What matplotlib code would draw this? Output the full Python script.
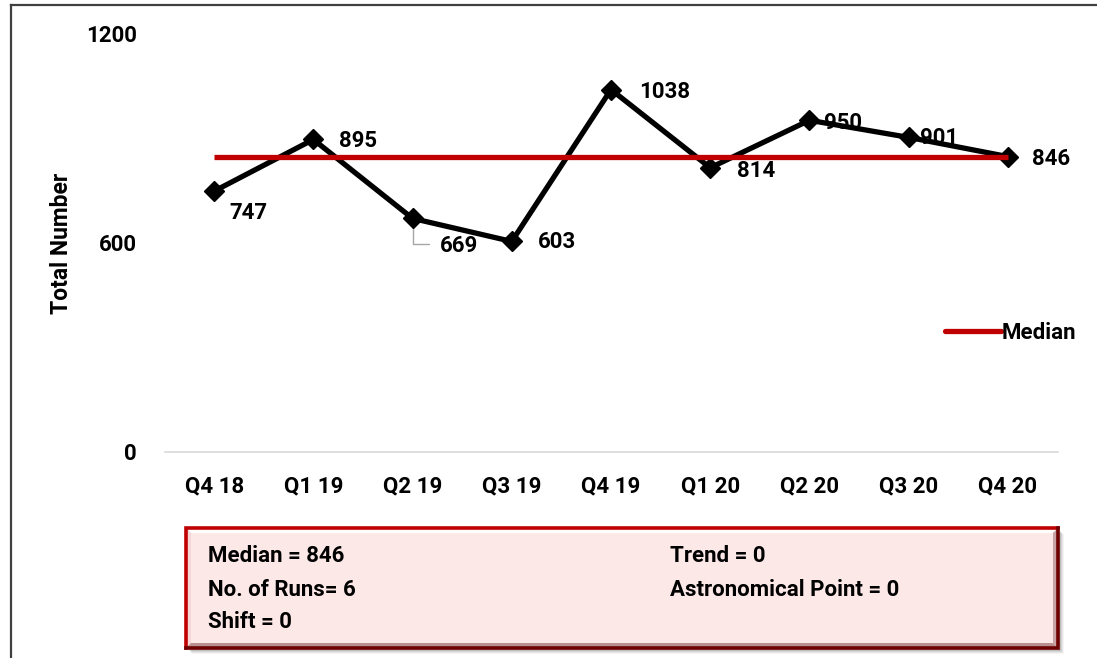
import matplotlib
matplotlib.use("Agg")
import matplotlib.pyplot as plt
from matplotlib.patches import Rectangle, Polygon
from matplotlib.lines import Line2D

plt.rcParams['font.family'] = ['Roboto', 'DejaVu Sans']
plt.rcParams['font.weight'] = 'bold'

# ---- data ----
quarters = ["Q4 18", "Q1 19", "Q2 19", "Q3 19", "Q4 19", "Q1 20", "Q2 20", "Q3 20", "Q4 20"]
totals = [747, 895, 669, 603, 1038, 814, 950, 901, 846]
median_value = 846
y_ticks = [0, 600, 1200]
# label offsets from each point (pixels, right / down)
label_offsets = [(34, 22), (45, 2), (46, 28), (45, 1), (54, 2), (46, 3), (34, 3), (30, 1), (43, 2)]
summary_left = ["Median = 846", "No. of Runs= 6", "Shift = 0"]
summary_right = ["Trend = 0", "Astronomical Point = 0"]

W, H = 1097, 658
DPI = 100
FS = 16
fig = plt.figure(figsize=(W / DPI, H / DPI), dpi=DPI)
fig.patch.set_facecolor("white")


def fx(px):
    return px / W


def fy(py):
    return 1 - py / H


# outer chart frame (top and left edges visible)
fig.add_artist(Line2D([fx(11), fx(11)], [fy(5), fy(H + 5)], color="#404040", lw=1.6,
                      transform=fig.transFigure))
fig.add_artist(Line2D([fx(11), fx(W + 5)], [fy(5), fy(5)], color="#404040", lw=1.6,
                      transform=fig.transFigure))

# plot area
ax_left, ax_right = 164.5, 1057.5
ax_top, ax_bottom = 33, 452
ax = fig.add_axes([fx(ax_left), fy(ax_bottom), fx(ax_right - ax_left), (ax_bottom - ax_top) / H])
ax.set_xlim(-0.5, len(quarters) - 0.5)
ax.set_ylim(0, 1200)
for s in ["top", "right", "left"]:
    ax.spines[s].set_visible(False)
ax.spines["bottom"].set_color("#D9D9D9")
ax.spines["bottom"].set_linewidth(1.2)
ax.tick_params(length=0)
ax.set_xticks(range(len(quarters)))
ax.set_xticklabels(quarters, fontsize=FS, fontweight="bold")
ax.tick_params(axis="x", pad=17)
ax.set_yticks(y_ticks)
ax.set_yticklabels([str(v) for v in y_ticks], fontsize=FS, fontweight="bold")
ax.tick_params(axis="y", pad=20)
ax.set_ylabel("Total Number", fontsize=16.5, fontweight="bold")
ax.yaxis.set_label_coords((73 - ax_left) / (ax_right - ax_left), (ax_bottom - 243) / (ax_bottom - ax_top))
ax.patch.set_alpha(0)

x = list(range(len(quarters)))
ax.plot(x, totals, color="black", lw=3.8, marker="D", markersize=10, zorder=3,
        solid_joinstyle="miter", clip_on=False)
ax.plot(x, [median_value] * len(x), color="#C00000", lw=3.8, zorder=4,
        solid_capstyle="butt", clip_on=False)

for i, (val, (dx, dy)) in enumerate(zip(totals, label_offsets)):
    ax.annotate(str(val), (i, val), xytext=(dx * 0.72, -dy * 0.72), textcoords="offset points",
                ha="center", va="center", fontsize=FS, fontweight="bold", zorder=5)

# leader line for the 669 label
ax.annotate("", (2, totals[2]), xytext=(16 * 0.72, -26 * 0.72), textcoords="offset points",
            arrowprops=dict(arrowstyle="-", color="#A6A6A6", lw=1.0,
                            connectionstyle="angle,angleA=0,angleB=-90,rad=0",
                            shrinkA=0, shrinkB=0), zorder=2)

# legend
handle = Line2D([0], [0], color="#C00000", lw=3.8, solid_capstyle="round")
fig.legend([handle], ["Median"], loc="center left", bbox_to_anchor=(fx(934), fy(333)),
           frameon=False, handlelength=2.5, handletextpad=0.05, borderpad=0,
           prop={"weight": "bold", "size": FS})

# summary box with bevel and shadow
bx0, by0, bx1, by1 = 186, 528, 1058, 648
tr = fig.transFigure
for k, a in enumerate([0.10, 0.08, 0.06, 0.04]):
    off = 3 + k
    fig.add_artist(Rectangle((fx(bx0 + off), fy(by1 + off)), fx(bx1 - bx0), (by1 - by0) / H,
                             transform=tr, facecolor="black", alpha=a, edgecolor="none"))
fig.add_artist(Rectangle((fx(bx0), fy(by1)), fx(bx1 - bx0), (by1 - by0) / H, transform=tr,
                         facecolor="#FDE8E8", edgecolor="none"))
b = 5
# top highlight bevel
fig.add_artist(Polygon([(fx(bx0), fy(by0)), (fx(bx1), fy(by0)), (fx(bx1 - b), fy(by0 + b)),
                        (fx(bx0 + b), fy(by0 + b))], closed=True, transform=tr,
                       facecolor="#FFFFFF", edgecolor="none"))
# left bevel
fig.add_artist(Polygon([(fx(bx0), fy(by0)), (fx(bx0 + b), fy(by0 + b)), (fx(bx0 + b), fy(by1 - b)),
                        (fx(bx0), fy(by1))], closed=True, transform=tr,
                       facecolor="#F6D6D6", edgecolor="none"))
# right bevel
fig.add_artist(Polygon([(fx(bx1), fy(by0)), (fx(bx1), fy(by1)), (fx(bx1 - b), fy(by1 - b)),
                        (fx(bx1 - b), fy(by0 + b))], closed=True, transform=tr,
                       facecolor="#C9A3A3", edgecolor="none"))
# bottom bevel
fig.add_artist(Polygon([(fx(bx0), fy(by1)), (fx(bx1), fy(by1)), (fx(bx1 - b), fy(by1 - b)),
                        (fx(bx0 + b), fy(by1 - b))], closed=True, transform=tr,
                       facecolor="#B88E8E", edgecolor="none"))
# red border: bright on top/left, dark on right/bottom
fig.add_artist(Line2D([fx(bx0), fx(bx0), fx(bx1)], [fy(by1), fy(by0), fy(by0)], transform=tr,
                      color="#C00000", lw=2.6, solid_joinstyle="miter"))
fig.add_artist(Line2D([fx(bx0), fx(bx1), fx(bx1)], [fy(by1), fy(by1), fy(by0)], transform=tr,
                      color="#6E0000", lw=2.6, solid_joinstyle="miter"))

line_y = [556, 590, 622]
for t, yy in zip(summary_left, line_y):
    fig.text(fx(208), fy(yy), t, ha="left", va="center", fontsize=FS, fontweight="bold")
for t, yy in zip(summary_right, line_y):
    fig.text(fx(670), fy(yy), t, ha="left", va="center", fontsize=FS, fontweight="bold")

fig.savefig("out.png", dpi=DPI)
